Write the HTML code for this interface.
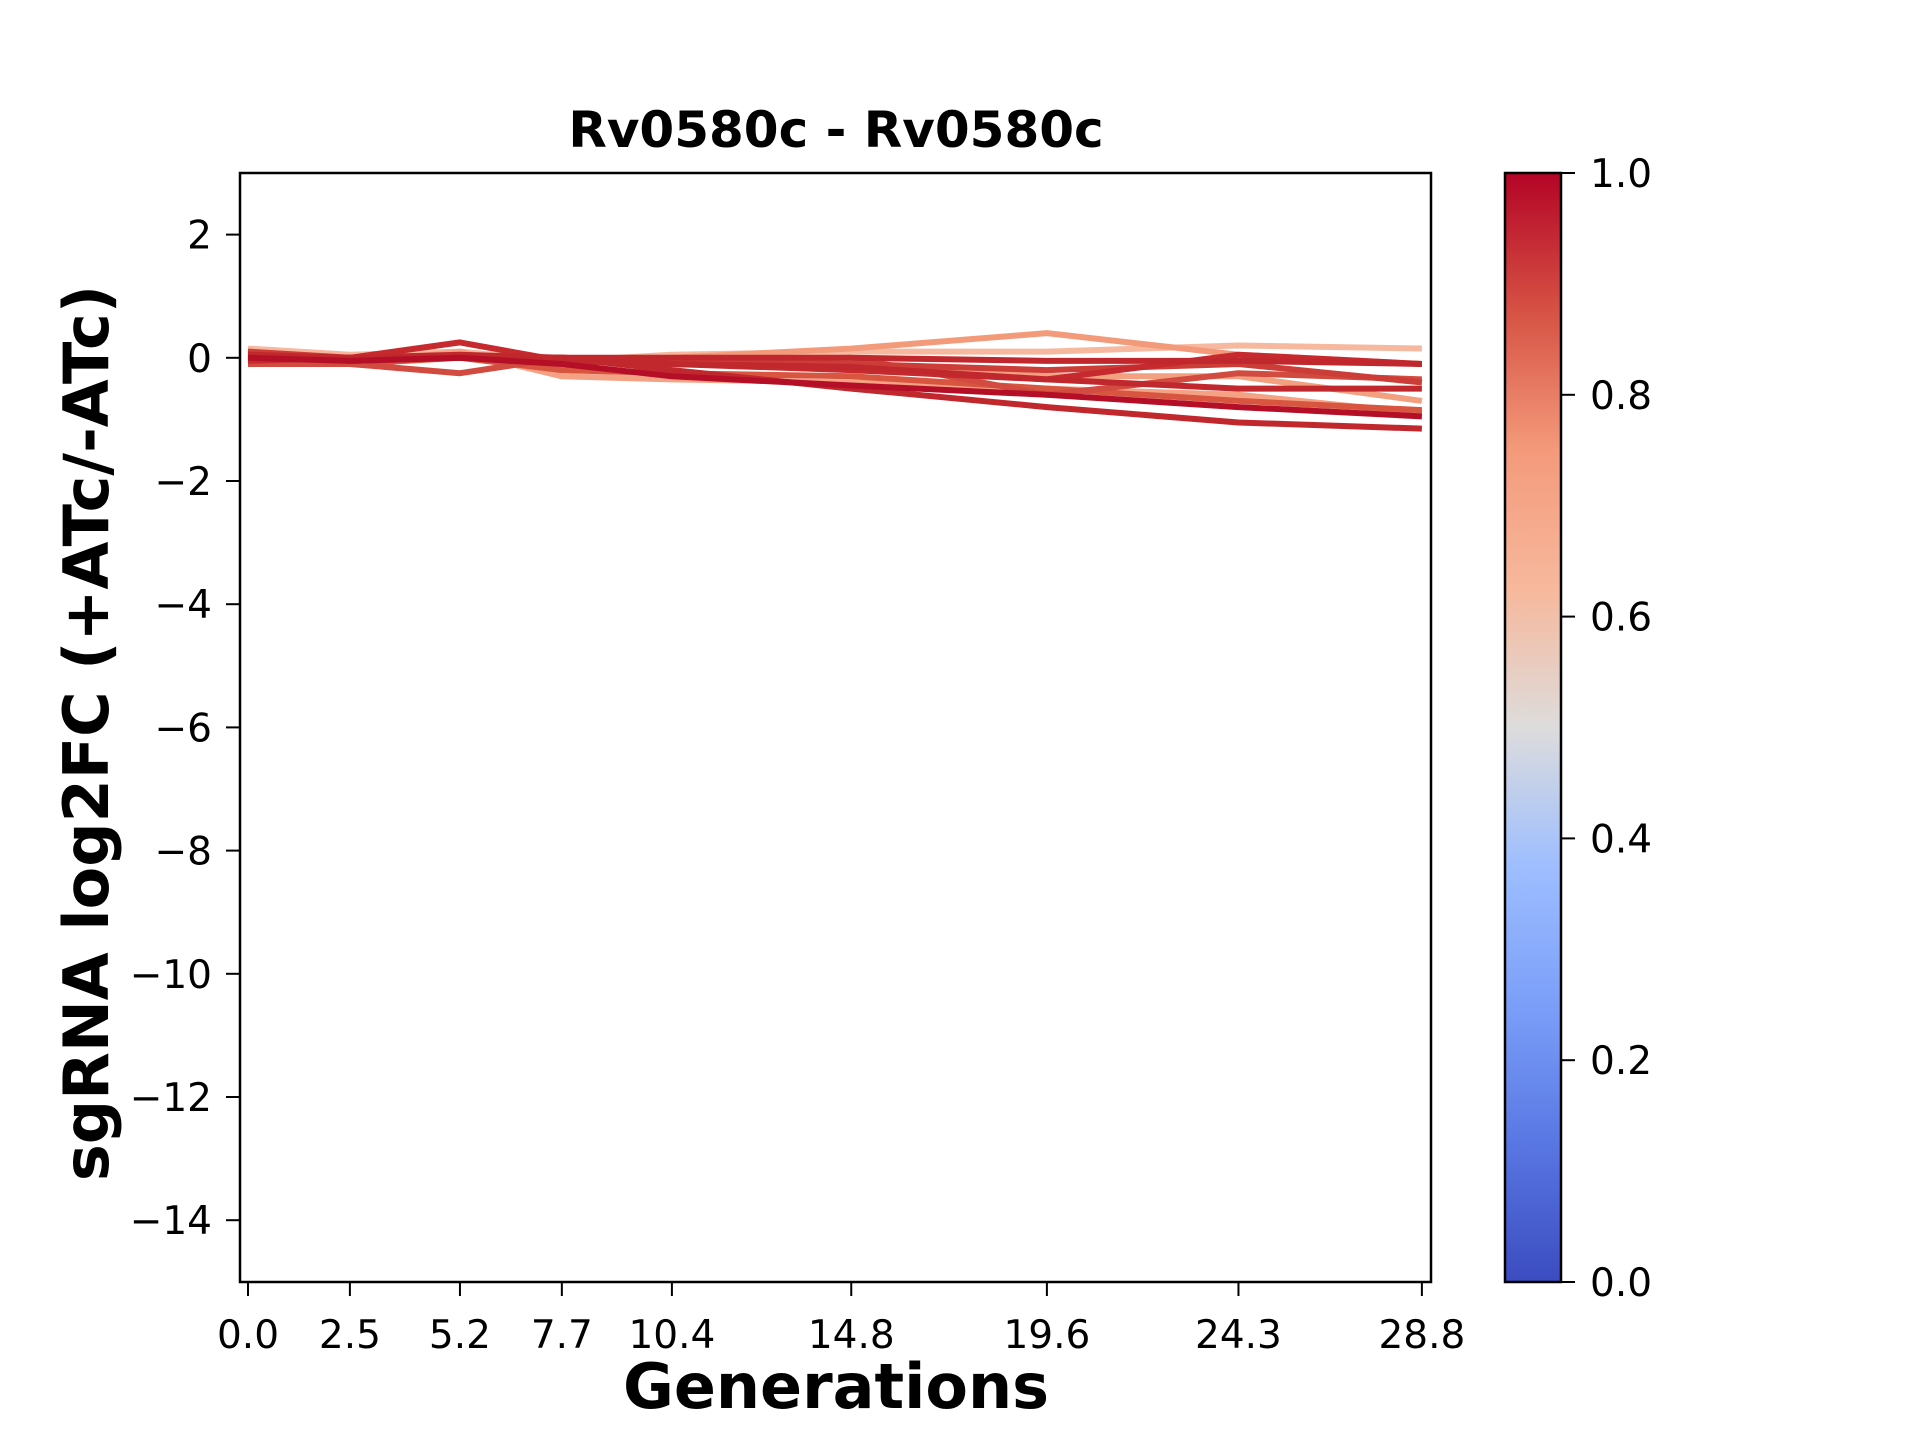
<!DOCTYPE html>
<html><head><meta charset="utf-8"><style>body{margin:0;background:#fff}</style></head>
<body>
<svg width="1920" height="1440" xmlns="http://www.w3.org/2000/svg" font-family="DejaVu Sans, Liberation Sans, sans-serif">
<defs>
<linearGradient id="cw" x1="0" y1="1" x2="0" y2="0">
<stop offset="0" stop-color="#3b4cc0"/><stop offset="0.125" stop-color="#5977e3"/>
<stop offset="0.25" stop-color="#7b9ff9"/><stop offset="0.375" stop-color="#9ebeff"/>
<stop offset="0.5" stop-color="#dddcdc"/><stop offset="0.625" stop-color="#f7b89c"/>
<stop offset="0.75" stop-color="#f49a7b"/><stop offset="0.875" stop-color="#d65244"/>
<stop offset="1" stop-color="#b40426"/>
</linearGradient>
<clipPath id="ax"><rect x="240" y="173" width="1191" height="1109"/></clipPath>
</defs>
<g id="lines" clip-path="url(#ax)" fill="none" stroke-width="6" stroke-linejoin="round"></g>
<rect x="240" y="173" width="1191" height="1109" fill="none" stroke="#000" stroke-width="2.5"/>
<g id="ticks" stroke="#000" stroke-width="2"></g>
<g id="labels" font-size="39" fill="#000"></g>
<text x="836" y="147" font-size="50" font-weight="bold" text-anchor="middle">Rv0580c - Rv0580c</text>
<text x="836" y="1408" font-size="62" font-weight="bold" text-anchor="middle">Generations</text>
<text transform="translate(108,733) rotate(-90)" font-size="62" font-weight="bold" text-anchor="middle">sgRNA log2FC (+ATc/-ATc)</text>
<rect x="1505" y="173" width="56" height="1109" fill="url(#cw)" stroke="#000" stroke-width="2.5"/>
<script>
const X=[0,2.5,5.2,7.7,10.4,14.8,19.6,24.3,28.8];
const px=g=>248+g*40.76, py=v=>357.8-v*61.6;
const S=[
["#f6b9a0",[0.15,0.05,0.1,-0.05,0.05,0.1,0.1,0.2,0.15]],
["#f4a184",[-0.05,-0.1,0.1,-0.3,-0.35,-0.4,-0.5,-0.6,-0.9]],
["#f3a080",[0,0,0,0,-0.05,-0.1,-0.3,-0.3,-0.7]],
["#f39a7b",[0.1,0,0,-0.1,0,0.15,0.4,0.05,-0.1]],
["#d8553f",[0,-0.1,0,-0.2,-0.25,-0.3,-0.5,-0.7,-0.85]],
["#d24b40",[-0.1,-0.1,-0.25,0,-0.05,0,-0.6,-0.25,-0.35]],
["#cc3d37",[0.1,0,0,0,-0.1,-0.1,-0.2,-0.1,-0.4]],
["#c62a2e",[-0.05,0,0.25,-0.05,-0.1,-0.2,-0.35,0.05,-0.1]],
["#c0282d",[0.05,0,0.05,0,0,0,-0.05,-0.05,-0.1]],
["#c0282d",[0,0,0,0,-0.1,-0.15,-0.35,-0.5,-0.5]],
["#c0282d",[0.05,-0.05,0,0,-0.2,-0.5,-0.8,-1.05,-1.15]],
["#b40f26",[0,-0.05,0,-0.1,-0.3,-0.45,-0.6,-0.8,-0.95]]];
const ns="http://www.w3.org/2000/svg";
const L=document.getElementById('lines'),T=document.getElementById('ticks'),B=document.getElementById('labels');
function el(p,t,a,txt){const e=document.createElementNS(ns,t);for(const k in a)e.setAttribute(k,a[k]);if(txt!==undefined)e.textContent=txt;p.appendChild(e);}
S.forEach(([c,v])=>el(L,'polyline',{stroke:c,points:v.map((y,i)=>px(X[i])+','+py(y)).join(' ')}));
X.forEach(g=>{el(T,'line',{x1:px(g),x2:px(g),y1:1282,y2:1296});el(B,'text',{x:px(g),y:1348,'text-anchor':'middle'},g.toFixed(1));});
for(let v=2;v>=-14;v-=2){el(T,'line',{x1:226,x2:240,y1:py(v),y2:py(v)});el(B,'text',{x:212,y:py(v)+14,'text-anchor':'end'},v<0?'\u2212'+(-v):''+v);}
for(let i=0;i<=5;i++){const y=1282-i*0.2*1109;el(T,'line',{x1:1561,x2:1575,y1:y,y2:y});el(B,'text',{x:1590,y:y+14},(i*0.2).toFixed(1));}
</script>
</svg>
</body></html>
